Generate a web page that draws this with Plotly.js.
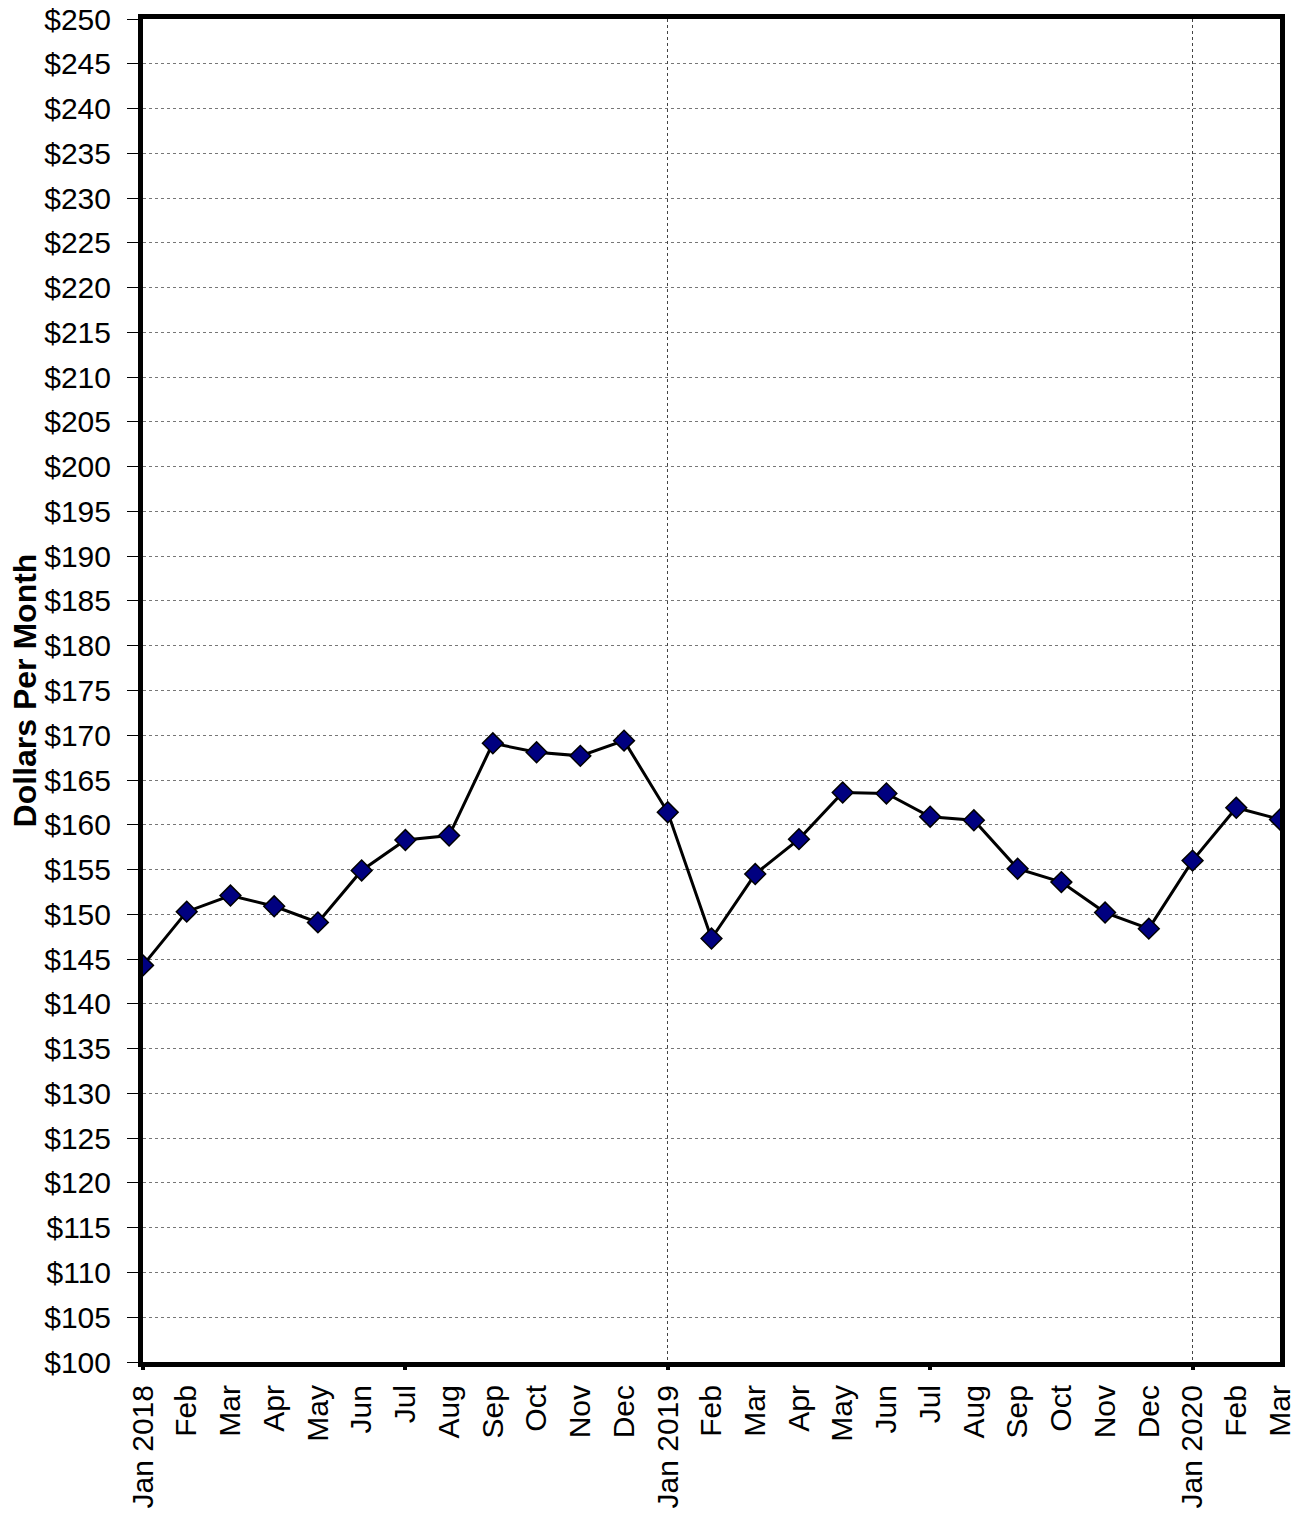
<!DOCTYPE html>
<html>
<head>
<meta charset="utf-8">
<script src="https://cdn.plot.ly/plotly-3.0.1.min.js"></script>
<style>html,body{margin:0;padding:0;background:#fff;}#chart{width:1303px;height:1513px;}</style>
</head>
<body>
<div id="chart"></div>
<script>
// Month labels along the x axis
const monthLabels = ["Jan 2018","Feb","Mar","Apr","May","Jun","Jul","Aug","Sep","Oct","Nov","Dec",
  "Jan 2019","Feb","Mar","Apr","May","Jun","Jul","Aug","Sep","Oct","Nov","Dec",
  "Jan 2020","Feb","Mar"];
// Dollars per month
const dollarsPerMonth = [144.3,150.3,152.1,150.9,149.1,154.9,158.3,158.8,169.1,168.1,167.7,169.4,
  161.4,147.3,154.5,158.4,163.6,163.5,160.9,160.5,155.1,153.6,150.2,148.4,
  156.0,161.9,160.6];
// Y tick values and labels
const yTicks = [100,105,110,115,120,125,130,135,140,145,150,155,160,165,170,175,180,185,190,195,200,
  205,210,215,220,225,230,235,240,245,250];
const yTickLabels = yTicks.map(v => "$" + v);
// Major tick marks (Jan / Jul) and vertical grid lines (Jan of each year)
const majorTickLabels = ["Jan 2018","Jul","Jan 2019","Jul","Jan 2020"];
const yearStartLabels = ["Jan 2019","Jan 2020"];

const idx = monthLabels.map((_, i) => i);
const majorIdx = majorTickLabels.map((_, k) => k * 6);
const yearIdx = yearStartLabels.map((_, k) => (k + 1) * 12);

const font = "Liberation Sans, Arial, sans-serif";

const trace = {
  x: idx, y: dollarsPerMonth,
  type: "scatter", mode: "lines+markers",
  line: {color: "#000000", width: 3},
  marker: {symbol: "diamond", size: 16, color: "#000080", line: {color: "#000000", width: 1.5}},
  xaxis: "x", yaxis: "y",
  hoverinfo: "x+y"
};
// empty helper traces so the overlay axes (tick marks / year grid lines) are drawn
const helper2 = {x: [], y: [], type: "scatter", mode: "lines", xaxis: "x2", yaxis: "y", hoverinfo: "skip"};
const helper3 = {x: [], y: [], type: "scatter", mode: "lines", xaxis: "x3", yaxis: "y", hoverinfo: "skip"};

const layout = {
  width: 1303, height: 1513,
  margin: {l: 143, r: 23, t: 19, b: 151},
  paper_bgcolor: "#ffffff", plot_bgcolor: "#ffffff",
  showlegend: false,
  font: {family: font, color: "#000000", size: 30},
  xaxis: {
    range: [0, 26], tickmode: "array", tickvals: idx, ticktext: monthLabels,
    tickangle: -90, ticks: "", showgrid: false, zeroline: false,
    showline: true, linecolor: "#000000", linewidth: 5, mirror: true,
    tickfont: {family: font, size: 30, color: "#000000"}, ticklabelstandoff: 6
  },
  xaxis3: {
    overlaying: "x", anchor: "y", side: "bottom", range: [0, 26],
    tickmode: "array", tickvals: yearIdx, ticktext: yearStartLabels, showticklabels: false,
    ticks: "", showgrid: true, gridcolor: "#444444", gridwidth: 1, griddash: "dot",
    zeroline: false, showline: false
  },
  xaxis2: {
    overlaying: "x", anchor: "y", side: "bottom", range: [0, 26],
    tickmode: "array", tickvals: majorIdx, ticktext: majorTickLabels, showticklabels: false,
    ticks: "outside", ticklen: 7, tickwidth: 4, tickcolor: "#000000",
    showgrid: false, zeroline: false, showline: false
  },
  yaxis: {
    range: [100, 250], tickmode: "array", tickvals: yTicks, ticktext: yTickLabels,
    ticks: "outside", ticklen: 11, tickwidth: 1, tickcolor: "#000000",
    showgrid: true, gridcolor: "#777777", gridwidth: 1, griddash: "dot",
    zeroline: false, showline: true, linecolor: "#000000", linewidth: 5, mirror: true,
    tickfont: {family: font, size: 30, color: "#000000"}, ticklabelstandoff: 10,
    title: {text: "<b>Dollars Per Month</b>", font: {family: font, size: 32, color: "#000000"}, standoff: 0}
  }
};

Plotly.newPlot("chart", [helper3, helper2, trace], layout, {staticPlot: true, displayModeBar: false});
</script>
</body>
</html>
